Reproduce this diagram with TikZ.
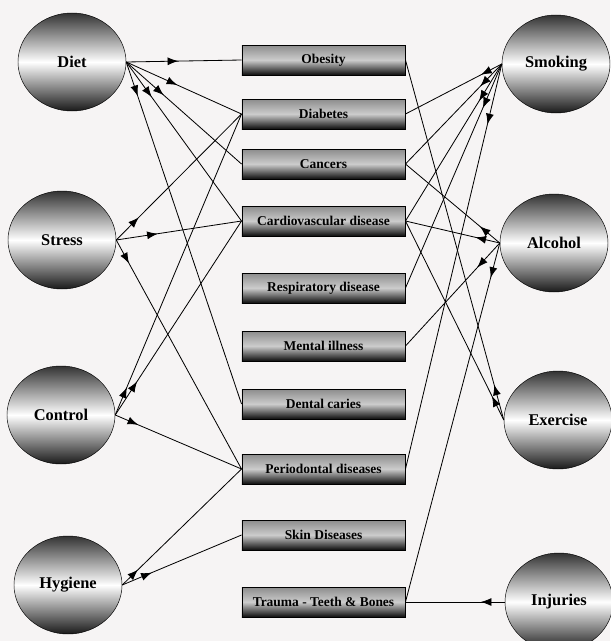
\documentclass[tikz,border=0pt]{standalone}
\usepackage{fontspec}
\setmainfont{Liberation Serif}
\usepackage{tikz}
\usetikzlibrary{shapes.geometric,arrows.meta,decorations.markings}
\definecolor{paper}{RGB}{246,244,244}

\begin{document}
\begin{tikzpicture}[
  x=0.03cm,y=-0.03cm,
  factor/.style={ellipse,draw,thin,minimum width=3.24cm,minimum height=2.94cm,inner sep=0pt,
    top color=black!80,bottom color=black!90,middle color=white,
    font=\fontsize{14}{16}\selectfont\bfseries},
  dis/.style={draw,line width=0.8pt,minimum width=4.89cm,minimum height=0.9cm,inner sep=0pt,
    top color=black!45,bottom color=black!95,middle color=white!80!black,
    font=\fontsize{11.5}{13}\selectfont\bfseries},
  arr/.style={line width=0.7pt,postaction={decorate},
    decoration={markings,mark=at position #1 with {\arrow{Latex[length=3.2mm,width=2.4mm]}}}},
]

% background
\fill[paper] (0,0) rectangle (610,641);
\useasboundingbox (0,0) rectangle (610,641);

% risk factors (left)
\node[factor] (diet)    at (72,62)  {Diet};
\node[factor] (stress)  at (62,240) {Stress};
\node[factor] (control) at (61,415) {Control};
\node[factor] (hygiene) at (68,585) {Hygiene};

% risk factors (right)
\node[factor] (smoking)  at (556,64)  {Smoking};
\node[factor] (alcohol)  at (554,243) {Alcohol};
\node[factor] (exercise) at (558,420) {Exercise};
\node[factor] (injuries) at (559,602) {Injuries};

% diseases
\node[dis] (obesity)  at (323.5,60)  {Obesity};
\node[dis] (diabetes) at (323.5,114) {Diabetes};
\node[dis] (cancers)  at (323.5,164) {Cancers};
\node[dis] (cardio)   at (323.5,221) {Cardiovascular disease};
\node[dis] (resp)     at (323.5,288) {Respiratory disease};
\node[dis] (mental)   at (323.5,346) {Mental illness};
\node[dis] (dental)   at (323.5,404) {Dental caries};
\node[dis] (perio)    at (323.5,469) {Periodontal diseases};
\node[dis] (skin)     at (323.5,535) {Skin Diseases};
\node[dis] (trauma)   at (323.5,602) {Trauma - Teeth \& Bones};

% left links
\draw[arr=1.56cm] (diet.east) -- (obesity.west);
\draw[arr=1.68cm] (diet.east) -- (diabetes.west);
\draw[arr=1.5cm]  (diet.east) -- (cancers.west);
\draw[arr=1.3cm]  (diet.east) -- (cardio.west);
\draw[arr=1.08cm] (diet.east) -- (dental.west);
\draw[arr=0.96cm] (stress.east) -- (diabetes.west);
\draw[arr=1.26cm] (stress.east) -- (cardio.west);
\draw[arr=0.8cm]  (stress.east) -- (perio.west);
\draw[arr=0.9cm]  (control.east) -- (diabetes.west);
\draw[arr=1.2cm]  (control.east) -- (cardio.west);
\draw[arr=0.75cm] (control.east) -- (perio.west);
\draw[arr=0.66cm] (hygiene.east) -- (perio.west);
\draw[arr=0.96cm] (hygiene.east) -- (skin.west);

% right links
\draw[arr=0.7cm]  (smoking.west) -- (diabetes.east);
\draw[arr=0.93cm] (smoking.west) -- (cancers.east);
\draw[arr=1.3cm]  (smoking.west) -- (cardio.east);
\draw[arr=1.44cm] (smoking.west) -- (resp.east);
\draw[arr=1.86cm] (smoking.west) -- (perio.east);
\draw[arr=0.78cm] (alcohol.west) -- (cancers.east);
\draw[arr=0.75cm] (alcohol.west) -- (cardio.east);
\draw[arr=1.0cm]  (alcohol.west) -- (mental.east);
\draw[arr=1.08cm] (alcohol.west) -- (trauma.east);
\draw[arr=1.1cm]  (exercise.west) -- (obesity.east);
\draw[arr=0.8cm]  (exercise.west) -- (cardio.east);
\draw[arr=0.72cm] (injuries.west) -- (trauma.east);

\end{tikzpicture}
\end{document}
